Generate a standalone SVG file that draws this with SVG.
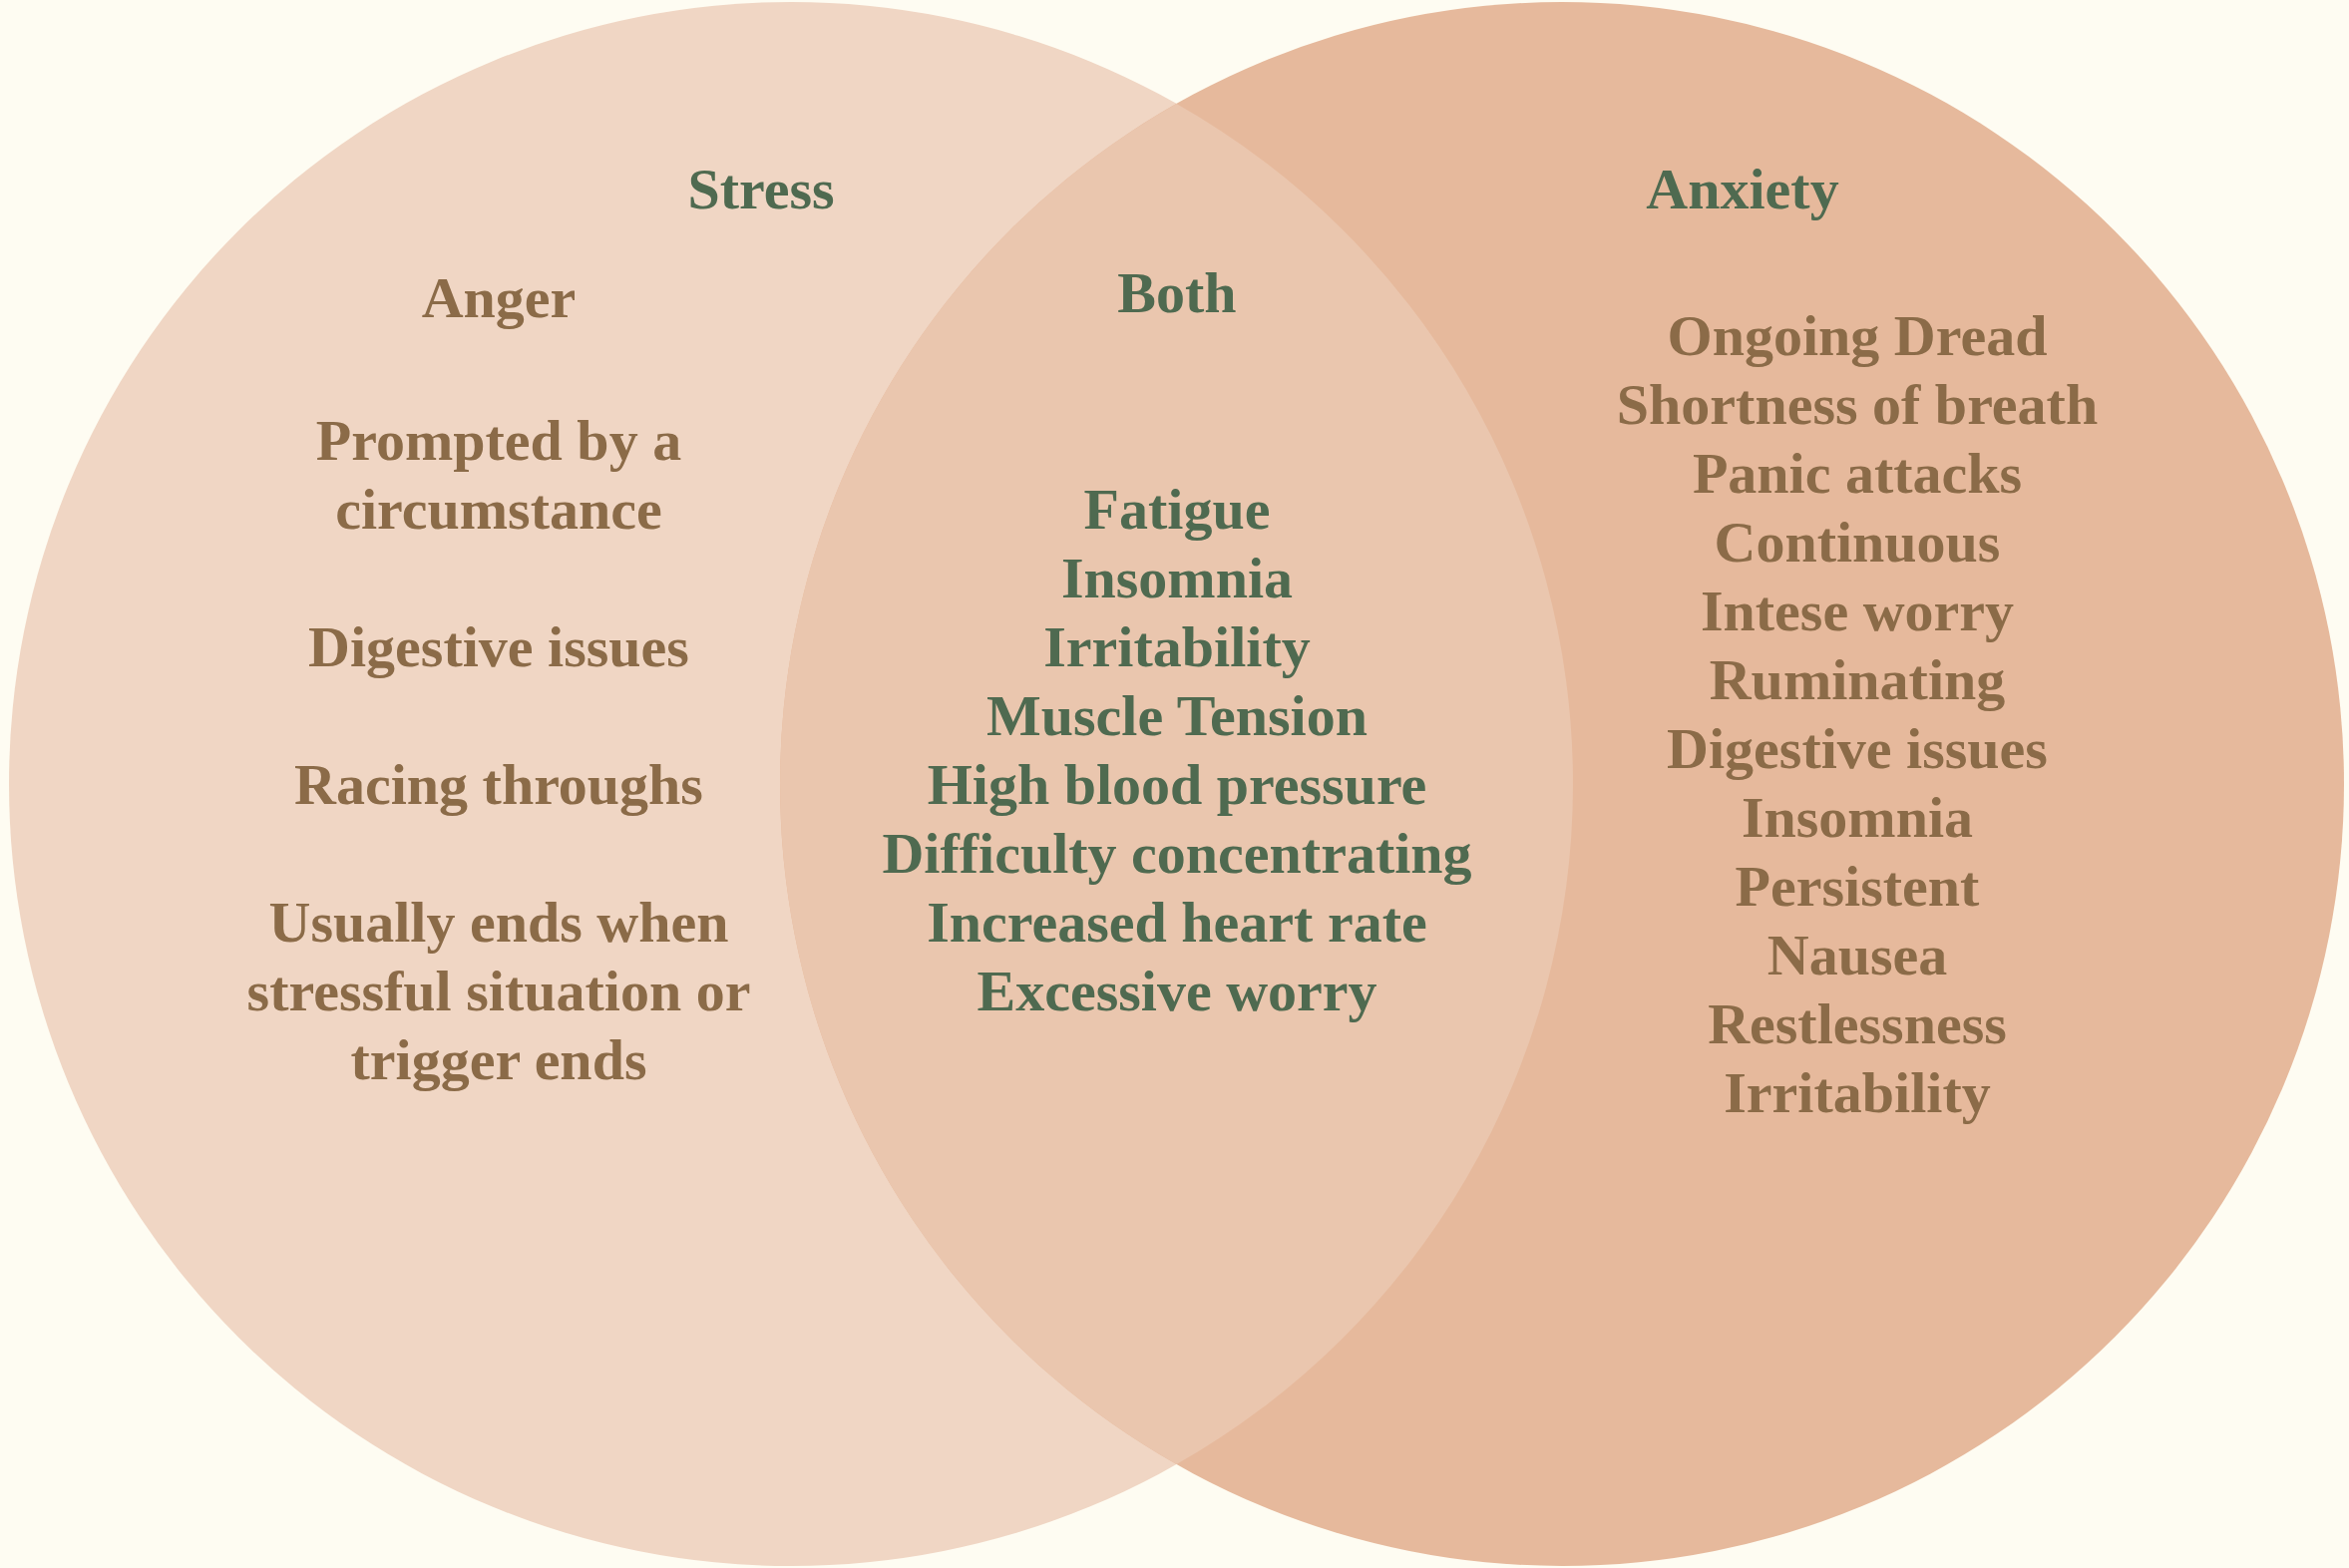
<svg xmlns="http://www.w3.org/2000/svg" width="2355" height="1572" viewBox="0 0 2355 1572">
<style>
text{font-family:"Liberation Serif","Times New Roman",serif;font-weight:bold;font-size:58px;text-anchor:middle}
.g{fill:#4F6A50}
.b{fill:#8B6B48}
</style>
<rect width="2355" height="1572" fill="#FEFCF2"/>
<g id="stress-circle"><circle cx="793" cy="786" r="784" fill="#F0D6C4"/></g>
<g id="anxiety-circle"><circle cx="1566" cy="786" r="784" fill="#E6B99C"/></g>
<g id="both-overlap"><path d="M1179.5,103.9 A784,784 0 0 1 1179.5,1468.1 A784,784 0 0 1 1179.5,103.9 Z" fill="#EAC6AE"/></g>
<g id="connectors"></g>
<g id="stress-labels">
<text class="g" x="763" y="209">Stress</text>
<text class="b" x="500" y="318">Anger</text>
<text class="b" x="500" y="461">Prompted by a</text>
<text class="b" x="500" y="530">circumstance</text>
<text class="b" x="500" y="668">Digestive issues</text>
<text class="b" x="500" y="806">Racing throughs</text>
<text class="b" x="500" y="944">Usually ends when</text>
<text class="b" x="500" y="1013">stressful situation or</text>
<text class="b" x="500" y="1082">trigger ends</text>
</g>
<g id="both-labels">
<text class="g" x="1180" y="313">Both</text>
<text class="g" x="1180" y="530">Fatigue</text>
<text class="g" x="1180" y="599">Insomnia</text>
<text class="g" x="1180" y="668">Irritability</text>
<text class="g" x="1180" y="737">Muscle Tension</text>
<text class="g" x="1180" y="806">High blood pressure</text>
<text class="g" x="1180" y="875">Difficulty concentrating</text>
<text class="g" x="1180" y="944">Increased heart rate</text>
<text class="g" x="1180" y="1013">Excessive worry</text>
</g>
<g id="anxiety-labels">
<text class="g" x="1747" y="209">Anxiety</text>
<text class="b" x="1862" y="356">Ongoing Dread</text>
<text class="b" x="1862" y="425">Shortness of breath</text>
<text class="b" x="1862" y="494">Panic attacks</text>
<text class="b" x="1862" y="563">Continuous</text>
<text class="b" x="1862" y="632">Intese worry</text>
<text class="b" x="1862" y="701">Ruminating</text>
<text class="b" x="1862" y="770">Digestive issues</text>
<text class="b" x="1862" y="839">Insomnia</text>
<text class="b" x="1862" y="908">Persistent</text>
<text class="b" x="1862" y="977">Nausea</text>
<text class="b" x="1862" y="1046">Restlessness</text>
<text class="b" x="1862" y="1115">Irritability</text>
</g>
</svg>
